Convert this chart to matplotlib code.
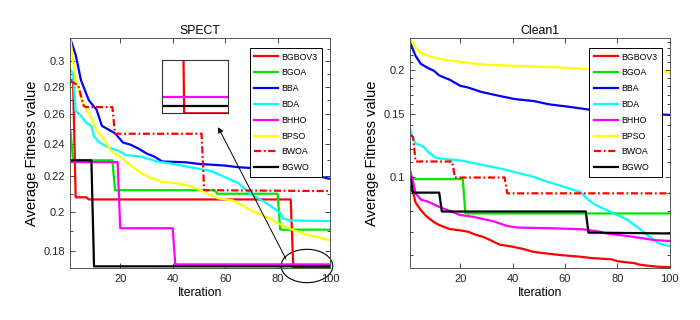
import matplotlib
matplotlib.use('Agg')
import matplotlib.pyplot as plt
from matplotlib.patches import Ellipse
from matplotlib.ticker import FixedLocator, NullFormatter

plt.rcParams['font.family'] = ['Liberation Sans', 'DejaVu Sans']

names = ['BGBOV3', 'BGOA', 'BBA', 'BDA', 'BHHO', 'BPSO', 'BWOA', 'BGWO']
colors = ['#ff0000', '#00e600', '#0000ff', '#00ffff', '#ff00ff', '#ffff00', '#ff0000', '#000000']
styles = ['-', '-', '-', '-', '-', '-', (0, (3.2, 1.2, 0.8, 1.2)), '-']

# SPECT
spect_bgbov3_it = [1, 2, 3, 7, 8, 85, 86, 100]
spect_bgbov3 = [0.285, 0.285, 0.208, 0.208, 0.2068, 0.2068, 0.1720, 0.1720]
spect_bgoa_it = [1, 2, 17, 18, 56, 57, 80, 81, 100]
spect_bgoa = [0.249, 0.2297, 0.2297, 0.212, 0.212, 0.2100, 0.2100, 0.1907, 0.1907]
spect_bba_it = [1, 3, 5, 8, 11, 13, 16, 18, 21, 24, 27, 30, 33, 36, 40, 45, 50, 55, 60, 65, 70, 75, 80, 85, 90, 95, 100]
spect_bba = [0.318, 0.305, 0.285, 0.270, 0.263, 0.252, 0.249, 0.247, 0.241, 0.2395, 0.237, 0.234, 0.232, 0.229,
             0.2288, 0.2285, 0.2275, 0.227, 0.2265, 0.2255, 0.225, 0.2245, 0.2235, 0.2225, 0.221, 0.2205, 0.2185]
spect_bda_it = [1, 2, 3, 5, 7, 9, 10, 12, 16, 19, 22, 28, 34, 40, 45, 50, 55, 60, 65, 70, 75, 79, 81, 82, 85, 100]
spect_bda = [0.293, 0.29, 0.262, 0.259, 0.254, 0.252, 0.245, 0.241, 0.2373, 0.236, 0.233, 0.232, 0.229, 0.2275,
             0.226, 0.2245, 0.223, 0.2195, 0.216, 0.2095, 0.2055, 0.2015, 0.1995, 0.1965, 0.1955, 0.1951]
spect_bhho_it = [1, 19, 20, 40, 41, 100]
spect_bhho = [0.2286, 0.2286, 0.1914, 0.1914, 0.1737, 0.1737]
spect_bpso_it = [1, 2, 3, 5, 7, 9, 11, 14, 16, 20, 24, 28, 32, 36, 44, 50, 57, 63, 70, 76, 80, 85, 90, 95, 100]
spect_bpso = [0.318, 0.30, 0.285, 0.272, 0.263, 0.2575, 0.2488, 0.243, 0.2362, 0.232, 0.2265, 0.222, 0.219, 0.2168,
              0.2155, 0.2125, 0.2075, 0.2062, 0.2008, 0.197, 0.1942, 0.191, 0.1885, 0.187, 0.1853]
spect_bwoa_it = [1, 4, 6, 7, 17, 18, 51, 52, 100]
spect_bwoa = [0.284, 0.281, 0.266, 0.265, 0.265, 0.2467, 0.2467, 0.212, 0.2115]
spect_bgwo_it = [1, 9, 10, 100]
spect_bgwo = [0.2297, 0.2297, 0.1728, 0.1728]

# Clean1
clean_bgbov3_it = [1, 2, 3, 5, 7, 10, 12, 16, 20, 23, 26, 29, 32, 35, 40, 44, 48, 52, 56, 60, 66, 70, 78, 80, 87, 88, 91, 95, 100]
clean_bgbov3 = [0.092, 0.0905, 0.0845, 0.0805, 0.0775, 0.0745, 0.0731, 0.0712, 0.0706, 0.0700, 0.0686, 0.0676,
                0.066, 0.0644, 0.0635, 0.0626, 0.0614, 0.0609, 0.0604, 0.0600, 0.0595, 0.0590, 0.0585, 0.0578,
                0.0570, 0.0566, 0.0562, 0.0558, 0.0556]
clean_bgoa_it = [1, 21, 22, 100]
clean_bgoa = [0.0985, 0.0985, 0.0788, 0.0788]
clean_bba_it = [1, 2, 3, 5, 8, 10, 12, 16, 20, 23, 28, 35, 41, 48, 54, 60, 67, 73, 80, 86, 92, 100]
clean_bba = [0.239, 0.228, 0.219, 0.208, 0.202, 0.199, 0.193, 0.1877, 0.1805, 0.1785, 0.1735, 0.169, 0.1655,
             0.1635, 0.160, 0.158, 0.1555, 0.153, 0.1525, 0.151, 0.1503, 0.1494]
clean_bda_it = [1, 2, 3, 6, 8, 11, 20, 26, 31, 36, 42, 48, 52, 57, 61, 66, 69, 72, 76, 80, 84, 88, 92, 96, 100]
clean_bda = [0.1355, 0.128, 0.124, 0.1215, 0.117, 0.1128, 0.1112, 0.109, 0.107, 0.1052, 0.1025, 0.1, 0.0975,
             0.095, 0.093, 0.0905, 0.086, 0.083, 0.0805, 0.078, 0.0755, 0.0718, 0.068, 0.0648, 0.0638]
clean_bhho_it = [1, 2, 3, 5, 8, 12, 17, 20, 25, 33, 38, 42, 54, 67, 73, 76, 83, 89, 94, 100]
clean_bhho = [0.1033, 0.097, 0.0898, 0.0862, 0.0849, 0.0822, 0.0796, 0.078, 0.0771, 0.0748, 0.0726, 0.0719,
              0.0716, 0.0711, 0.0701, 0.0692, 0.0682, 0.0672, 0.0663, 0.0659]
clean_bpso_it = [1, 2, 3, 5, 8, 12, 16, 20, 25, 30, 40, 50, 60, 70, 80, 90, 100]
clean_bpso = [0.245, 0.237, 0.231, 0.2235, 0.219, 0.215, 0.2125, 0.211, 0.2085, 0.207, 0.2055, 0.2044, 0.2028,
              0.2005, 0.1995, 0.1985, 0.1968]
clean_bwoa_it = [1, 2, 3, 17, 18, 37, 38, 100]
clean_bwoa = [0.131, 0.1296, 0.1104, 0.1104, 0.0995, 0.0995, 0.0898, 0.0898]
clean_bgwo_it = [1, 2, 12, 13, 68, 69, 100]
clean_bgwo = [0.1, 0.0902, 0.0902, 0.0798, 0.0798, 0.0696, 0.0692]

spect = [(spect_bgbov3_it, spect_bgbov3), (spect_bgoa_it, spect_bgoa), (spect_bba_it, spect_bba),
         (spect_bda_it, spect_bda), (spect_bhho_it, spect_bhho), (spect_bpso_it, spect_bpso),
         (spect_bwoa_it, spect_bwoa), (spect_bgwo_it, spect_bgwo)]
clean = [(clean_bgbov3_it, clean_bgbov3), (clean_bgoa_it, clean_bgoa), (clean_bba_it, clean_bba),
         (clean_bda_it, clean_bda), (clean_bhho_it, clean_bhho), (clean_bpso_it, clean_bpso),
         (clean_bwoa_it, clean_bwoa), (clean_bgwo_it, clean_bgwo)]

fig = plt.figure(figsize=(7, 3.2), dpi=100)
ax1 = fig.add_axes([0.1006, 0.1616, 0.3709, 0.7188])
ax2 = fig.add_axes([0.5863, 0.1616, 0.3703, 0.7188])

def setup(ax, series, title, ylim, major, labels, minor):
    for (it, v), name, c, ls in zip(series, names, colors, styles):
        ax.plot(it, v, color=c, ls=ls, lw=1.6, label=name)
    ax.set_yscale('log')
    ax.set_xlim(1, 100)
    ax.set_ylim(*ylim)
    ax.set_xticks([20, 40, 60, 80, 100])
    ax.yaxis.set_major_locator(FixedLocator(major))
    ax.set_yticklabels(labels)
    ax.yaxis.set_minor_locator(FixedLocator(minor))
    ax.yaxis.set_minor_formatter(NullFormatter())
    ax.tick_params(which='both', direction='in', top=True, right=True, labelsize=8,
                   colors='#262626', width=0.6)
    ax.tick_params(which='major', length=3.5, pad=4)
    ax.tick_params(which='minor', length=2)
    for s in ax.spines.values():
        s.set_color('#555555')
        s.set_linewidth(0.7)
    ax.set_title(title, fontsize=8.8, pad=3)
    ax.set_xlabel('Iteration', fontsize=8.8, labelpad=2)
    ax.set_ylabel('Average Fitness value', fontsize=10.5, labelpad=3)
    leg = ax.legend(loc='upper right', bbox_to_anchor=(0.969, 0.957), fontsize=6.3, frameon=True,
                    fancybox=False, edgecolor='black', framealpha=1, handlelength=2.75,
                    handletextpad=0.4, labelspacing=0.78, borderpad=0.5, borderaxespad=0)
    leg.get_frame().set_linewidth(0.7)

setup(ax1, spect, 'SPECT', (0.1719, 0.3188), [0.18, 0.2, 0.22, 0.24, 0.26, 0.28, 0.3],
      ['0.18', '0.2', '0.22', '0.24', '0.26', '0.28', '0.3'],
      [0.19, 0.21, 0.23, 0.25, 0.27, 0.29, 0.31])
setup(ax2, clean, 'Clean1', (0.0552, 0.2457), [0.1, 0.15, 0.2], ['0.1', '0.15', '0.2'],
      [0.06, 0.07, 0.08, 0.09, 0.11, 0.12, 0.13, 0.14, 0.16, 0.17, 0.18, 0.19, 0.21, 0.22, 0.23, 0.24])

# zoom inset on the SPECT plot
axin = fig.add_axes([0.231, 0.646, 0.0951, 0.1667])
for (it, v), c, ls in zip(spect, colors, styles):
    axin.plot(it, v, color=c, ls=ls, lw=1.6)
axin.set_xlim(80.6, 96.6)
axin.set_ylim(0.1720, 0.1775)
axin.set_xticks([])
axin.set_yticks([])
for s in axin.spines.values():
    s.set_color('#333333')
    s.set_linewidth(0.8)

ax1.add_patch(Ellipse((0.911, 0.01), 0.199, 0.145, transform=ax1.transAxes, fill=False,
                      edgecolor='black', lw=0.8, clip_on=False))
ax1.annotate('', xy=(0.564, 0.624), xytext=(0.835, 0.03), xycoords='axes fraction',
             arrowprops=dict(arrowstyle='-|>', color='black', lw=0.7, mutation_scale=8))

fig.savefig('out.png', dpi=100)
